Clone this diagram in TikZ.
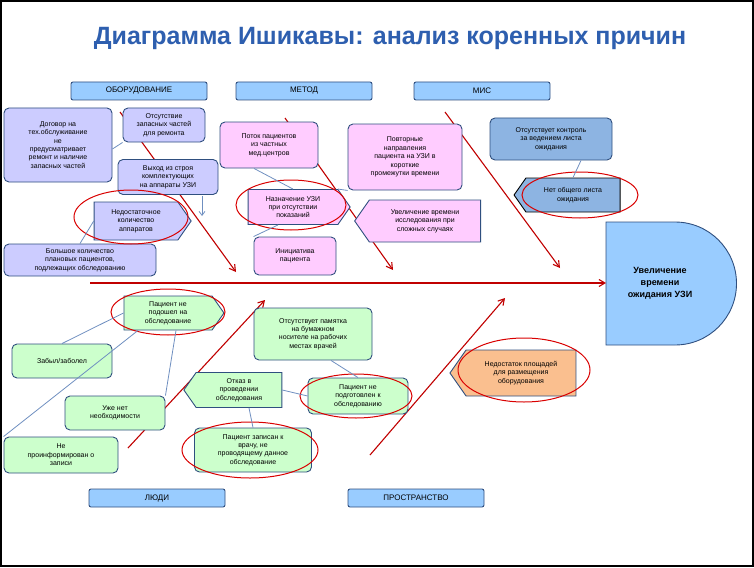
\documentclass[tikz,border=0pt]{standalone}
\usepackage{fontspec}
\setmainfont{Liberation Sans}
\usetikzlibrary{shapes.symbols,arrows.meta}
\definecolor{bdr}{HTML}{2F4F7F}
\definecolor{hdr}{HTML}{99CCFF}
\definecolor{lav}{HTML}{CCCCFF}
\definecolor{pnk}{HTML}{FFCCFF}
\definecolor{mis}{HTML}{8DB4E2}
\definecolor{grn}{HTML}{CCFFCC}
\definecolor{org}{HTML}{FABF8F}
\definecolor{ttl}{HTML}{2E5FAF}
\definecolor{bone}{HTML}{C00000}
\definecolor{lnk}{HTML}{6F8FC0}
\begin{document}
\begin{tikzpicture}[x=1pt,y=-1pt,
 tx/.style={font=\fontsize{7}{8.4}\selectfont,align=center},
 box/.style={tx,draw=bdr,line width=0.9pt,rounded corners=5pt,inner sep=1pt},
 hd/.style={draw=bdr,line width=0.9pt,fill=hdr,rounded corners=2pt,minimum width=136pt,minimum height=18pt,font=\fontsize{8}{9}\selectfont,inner sep=0pt},
 sigR/.style={tx,draw=bdr,line width=0.9pt,signal,signal to=east,signal pointer angle=110,inner sep=1pt},
 sigL/.style={tx,draw=bdr,line width=0.9pt,signal,signal to=west,signal pointer angle=110,inner sep=1pt},
 ring/.style={draw=red!85!black,line width=1pt},
 bn/.style={draw=bone,line width=1.1pt,-{Straight Barb[length=6pt,width=7pt]}},
 lk/.style={draw=lnk,line width=0.8pt}]
\useasboundingbox (0,0) rectangle (754,567);
\draw[line width=2pt] (1,1) rectangle (753,566);
% title
\node[font=\bfseries\fontsize{25}{28}\selectfont,text=ttl,
  preaction={}] (title) at (390,38) {Диаграмма Ишикавы: анализ коренных причин};
% headers
\node[hd] (h1) at (139,91) {ОБОРУДОВАНИЕ};
\node[hd] (h2) at (304,91) {МЕТОД};
\node[hd] (h3) at (482,91) {МИС};
\node[hd] (h4) at (157,498) {ЛЮДИ};
\node[hd] (h5) at (416,498) {ПРОСТРАНСТВО};
% head
\draw[draw=bdr,line width=0.9pt,fill=hdr] (606,222) -- (675,222) arc[start angle=-90,end angle=90,radius=61.5] -- (606,345) -- cycle;
\node[font=\bfseries\fontsize{9}{12}\selectfont,align=center] (head) at (660,283) {Увеличение\\времени\\ожидания УЗИ};
\coordinate (sp0) at (90,283); \coordinate (sp1) at (606,283);
\draw[bn] (sp0) -- (sp1);
% bones
\coordinate (b1a) at (120,112); \coordinate (b1b) at (236,272);
\coordinate (b2a) at (285,118); \coordinate (b2b) at (393,270);
\coordinate (b3a) at (445,112); \coordinate (b3b) at (560,268);
\coordinate (b4a) at (128,448); \coordinate (b4b) at (265,300);
\coordinate (b5a) at (370,455); \coordinate (b5b) at (505,298);
\draw[bn] (b1a)--(b1b); \draw[bn] (b2a)--(b2b); \draw[bn] (b3a)--(b3b);
\draw[bn] (b4a)--(b4b); \draw[bn] (b5a)--(b5b);
% equipment
\node[box,fill=lav,minimum width=108pt,minimum height=74pt] (e1) at (58,145) {Договор на\\тех.обслуживание\\не\\предусматривает\\ремонт и наличие\\запасных частей};
\node[box,fill=lav,minimum width=82pt,minimum height=34pt] (e2) at (164,125) {Отсутствие\\запасных частей\\для ремонта};
\node[box,fill=lav,minimum width=100pt,minimum height=35pt] (e3) at (168,177) {Выход из строя\\комплектующих\\на аппараты УЗИ};
\node[sigR,fill=lav,minimum width=97pt,minimum height=38pt] (e4) at (136,221) {Недостаточное\\количество\\аппаратов};
\node[box,fill=lav,minimum width=152pt,minimum height=32pt] (e5) at (80,260) {Большое количество\\плановых пациентов,\\подлежащих обследованию};
\draw[ring] (131,217) ellipse [x radius=57,y radius=27];
\draw[lk] (e1.east) ++(0,4) -- (e2.south west);
\draw[lk] (e4.west) -- (e5.north);
\coordinate (ar0) at (202,196); \coordinate (ar1) at (202,216);
\draw[lk,-{Straight Barb[length=4pt,width=6pt]}] (ar0) -- (ar1);
% method
\node[box,fill=pnk,minimum width=98pt,minimum height=46pt] (m1) at (269,145) {Поток пациентов\\из частных\\мед.центров};
\node[sigR,fill=pnk,minimum width=102pt,minimum height=35pt] (m2) at (293,207) {Назначение УЗИ\\при отсутствии\\показаний};
\node[box,fill=pnk,minimum width=82pt,minimum height=38pt] (m3) at (295,256) {Инициатива\\пациента};
\node[box,fill=pnk,minimum width=114pt,minimum height=66pt] (m4) at (405,157) {Повторные\\направления\\пациента на УЗИ в\\короткие\\промежутки времени};
\node[sigL,fill=pnk,minimum width=126pt,minimum height=42pt] (m5) at (425,221) {Увеличение времени\\исследования при\\сложных случаях};
\draw[ring] (291,205) ellipse [x radius=55,y radius=25];
\draw[lk] (m1.south) ++(-15,0) -- (m2.north);
\draw[lk] (m2.north east) -- (m4.south west);
\draw[lk] (m2.south) ++(-15,0) -- (m3.north west);
% MIS
\node[box,fill=mis,minimum width=122pt,minimum height=42pt] (s1) at (551,139) {Отсутствует контроль\\за ведением листа\\ожидания};
\node[sigL,fill=mis,minimum width=106pt,minimum height=34pt,draw=black] (s2) at (573,195) {Нет общего листа\\ожидания};
\draw[ring] (580,195) ellipse [x radius=58,y radius=23];
\draw[lk] (s1.south) ++(30,0) -- (s2.north);
% people
\node[sigR,fill=grn,minimum width=100pt,minimum height=34pt] (p1) at (168,313) {Пациент не\\подошел на\\обследование};
\draw[ring] (168,312) ellipse [x radius=57,y radius=23];
\node[box,fill=grn,minimum width=100pt,minimum height=34pt] (p2) at (62,361) {Забыл/заболел};
\node[box,fill=grn,minimum width=100pt,minimum height=34pt] (p3) at (115,413) {Уже нет\\необходимости};
\node[box,fill=grn,minimum width=114pt,minimum height=36pt] (p4) at (61,455) {Не\\проинформирован о\\записи};
\draw[lk] (p1.west) -- (p2.north);
\draw[lk] (p1.south) ++(-30,0) -- (p4.north west);
\draw[lk] (p1.south) ++(8,0) -- (p3.north east);
\node[box,fill=grn,minimum width=118pt,minimum height=52pt] (p5) at (313,334) {Отсутствует памятка\\на бумажном\\носителе на рабочих\\местах врачей};
\node[sigL,fill=grn,minimum width=98pt,minimum height=35pt] (p6) at (239,390) {Отказ в\\проведении\\обследования};
\node[box,fill=grn,minimum width=100pt,minimum height=36pt] (p7) at (358,396) {Пациент не\\подготовлен к\\обследованию};
\draw[ring] (356,396) ellipse [x radius=56,y radius=22];
\node[box,fill=grn,minimum width=117pt,minimum height=44pt] (p8) at (253,450) {Пациент записан к\\врачу, не\\проводящему данное\\обследование};
\draw[ring] (250,450) ellipse [x radius=68,y radius=28];
\draw[lk] (p5.south) ++(18,0) -- (p7.north);
\draw[lk] (p6.east) -- (p7.west);
\draw[lk] (p6.south) ++(10,0) -- (p8.north);
% space
\node[sigL,fill=org,minimum width=126pt,minimum height=46pt] (q1) at (521,373) {Недостаток площадей\\для размещения\\оборудования};
\draw[ring] (524,370) ellipse [x radius=66,y radius=32];
\end{tikzpicture}
\end{document}
